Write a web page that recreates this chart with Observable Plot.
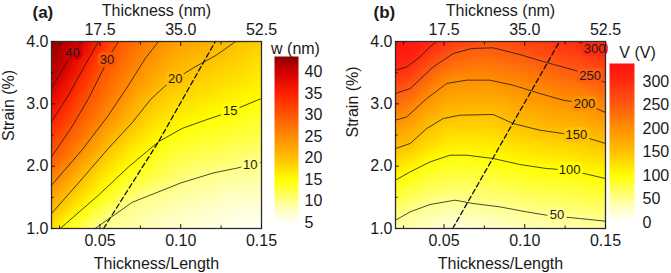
<!DOCTYPE html>
<html><head><meta charset="utf-8">
<script src="https://cdn.jsdelivr.net/npm/d3@7"></script>
<script src="https://cdn.jsdelivr.net/npm/@observablehq/plot@0.6"></script>
<style>
body{margin:0;background:#fff;}
#chart{position:relative;width:671px;height:273px;overflow:hidden;font-family:"Liberation Sans",Arial,sans-serif;}
#chart > *{position:absolute;top:0;}
</style></head><body><div id="chart"></div>
<script>
// ---- axes ----
const ratioTicks = [0.05, 0.10, 0.15];
const ratioMinor = [0.025, 0.075, 0.125];
const thicknessLabels = ["17.5", "35.0", "52.5"];
const strainTicks = [1, 2, 3, 4];
const strainMinor = [1.5, 2.5, 3.5];

// ---- panel (a): w (nm) contour lines [thickness/length, strain] ----
const w40 = [[0.02,3.246],[0.0285,3.62],[0.0336,3.834],[0.0388,4.0]];
const w35 = [[0.02,2.711],[0.0305,3.139],[0.0408,3.62],[0.0491,4.0]];
const w30 = [[0.02,2.15],[0.0326,2.63],[0.0429,3.086],[0.0512,3.513],[0.0574,3.834],[0.0615,4.0]];
const w25 = [[0.02,1.695],[0.0388,2.257],[0.0553,2.818],[0.0677,3.30],[0.0780,3.727],[0.0862,4.0]];
const w20 = [[0.02,1.24],[0.039,1.80],[0.055,2.28],[0.070,2.70],[0.081,3.06],[0.090,3.28],[0.097,3.40],[0.108,3.58],[0.122,3.78],[0.134,4.0]];
const w15 = [[0.0254,1.0],[0.0491,1.535],[0.0677,1.989],[0.0862,2.39],[0.1007,2.604],[0.1151,2.738],[0.1275,2.845],[0.15,3.086]];
const w10 = [[0.047,1.0],[0.0700,1.42],[0.1000,1.73],[0.1200,1.89],[0.1350,1.97],[0.15,2.06]];
const wLevels = [40, 35, 30, 25, 20, 15, 10];
const wLinesPts = [w40, w35, w30, w25, w20, w15, w10];
const wCorners = [[0.02,4.0,43.6],[0.02,1.0,18],[0.10,1.0,7],[0.15,1.0,4.8],[0.15,1.5,7.6],[0.10,4.0,23],[0.15,4.0,18.8]];
const wLabels = [[40,0.0330,3.824],[30,0.0543,3.70],[20,0.0966,3.40],[15,0.1306,2.88],[10,0.1430,2.02]];
const wDash = [[0.0522,1.0],[0.0862,2.39],[0.1214,4.0]];
const wTicks = [5, 10, 15, 20, 25, 30, 35, 40];
const wColorStops = [4.6, 8, 12, 15, 20, 25, 30, 35, 40, 43.6];
const wColors = ["#ffffff","#ffffc0","#ffff50","#ffff00","#ffc000","#ff8c00","#ff5500","#ff2000","#d40000","#8b0000"];

// ---- panel (b): V (V) contour lines ----
const v300a = [[0.02,3.540],[0.0270,3.594],[0.0352,3.754],[0.0414,3.914],[0.0455,4.0]];
const v300b = [[0.1329,4.0],[0.1422,3.898],[0.15,3.824]];
const v250 = [[0.02,3.166],[0.0291,3.246],[0.0434,3.594],[0.0558,3.807],[0.0671,3.888],[0.0805,3.898],[0.0969,3.791],[0.1134,3.663],[0.1309,3.540],[0.1405,3.444],[0.15,3.342]];
const v200 = [[0.02,2.738],[0.0270,2.791],[0.0393,3.085],[0.0517,3.326],[0.0640,3.380],[0.0784,3.380],[0.0928,3.299],[0.1093,3.166],[0.1237,3.059],[0.1370,3.005],[0.15,2.861]];
const v150 = [[0.02,2.283],[0.0291,2.364],[0.0393,2.604],[0.0496,2.765],[0.0599,2.818],[0.0805,2.829],[0.0928,2.684],[0.1093,2.577],[0.1237,2.524],[0.1319,2.508],[0.15,2.364]];
const v100 = [[0.02,1.775],[0.0291,1.909],[0.0414,2.069],[0.0537,2.176],[0.0640,2.176],[0.0805,2.123],[0.0969,2.027],[0.1134,1.962],[0.1278,1.936],[0.15,1.802]];
const v50 = [[0.02,1.133],[0.0291,1.267],[0.0414,1.385],[0.0568,1.454],[0.0681,1.401],[0.0846,1.347],[0.1010,1.267],[0.1134,1.214],[0.1340,1.160],[0.15,1.117]];
const vLevels = [300, 300, 250, 200, 150, 100, 50];
const vLinesPts = [v300a, v300b, v250, v200, v150, v100, v50];
const vCorners = [[0.02,4.0,338],[0.03,4.0,328],[0.08,4.0,262],[0.11,4.0,284],[0.15,4.0,310],[0.02,1.0,40],[0.057,1.0,19],[0.10,1.0,32],[0.15,1.0,42]];
const vLabels = [[300,0.1432,3.888],[250,0.1405,3.444],[200,0.1370,3.005],[150,0.1319,2.508],[100,0.1278,1.936],[50,0.12,1.214]];
const vDash = [[0.0554,1.0],[0.1216,4.0]];
const vTicks = [0, 50, 100, 150, 200, 250, 300];
const vColorStops = [0, 25, 50, 100, 150, 200, 250, 300, 338];
const vColors = ["#ffffff","#ffffd0","#ffff90","#ffff00","#ffc000","#ff9000","#ff5a10","#ff2a10","#ff1010"];

const FONT = '"Liberation Sans", Arial, sans-serif';
const baseStyle = {fontFamily: FONT, fontSize: "16px", color: "#1a1a1a", background: "transparent", overflow: "visible"};

function buildRows(levels, linesPts) {
  const rows = [];
  linesPts.forEach((pts, i) => pts.forEach(([x, y]) => rows.push({id: i, level: levels[i], x, y})));
  return rows;
}

function panel({levels, linesPts, corners, labels, dash, stops, colors, tag, strainDy}) {
  const rows = buildRows(levels, linesPts);
  const samples = rows.map(d => ({x: d.x, y: d.y, v: d.level}))
    .concat(corners.map(([x, y, v]) => ({x, y, v})));
  const labelRows = labels.map(([level, x, y]) => ({level, x, y}));
  return Plot.plot({
    width: 270, height: 273,
    marginLeft: 51, marginRight: 9, marginTop: 41, marginBottom: 45,
    x: {domain: [0.02, 0.15]},
    y: {domain: [1, 4]},
    color: {type: "linear", domain: stops, range: colors, clamp: true},
    style: baseStyle,
    marks: [
      Plot.raster(samples, {x: "x", y: "y", fill: "v", x1: 0.02, x2: 0.15, y1: 1, y2: 4, interpolate: "barycentric", blur: 3}),
      Plot.line(rows, {x: "x", y: "y", z: "id", stroke: "#1a1a1a", strokeWidth: 0.8}),
      Plot.line(dash, {x: d => d[0], y: d => d[1], stroke: "#111", strokeWidth: 1.3, strokeDasharray: "5,3"}),
      Plot.text(labelRows, {x: "x", y: "y", text: d => String(d.level), stroke: d => d.level, strokeWidth: 6, paintOrder: "stroke", fill: "#1a1a1a", fontSize: 13}),
      Plot.frame({stroke: "#2e2e2e", strokeWidth: 1.3}),
      Plot.axisX(ratioTicks, {anchor: "bottom", tickSize: -4, tickPadding: 10, tickFormat: d => d.toFixed(2), label: null}),
      Plot.axisX(ratioMinor, {anchor: "bottom", tickSize: -2.5, tickFormat: () => "", label: null}),
      Plot.axisX(ratioTicks, {anchor: "top", tickSize: -4, tickPadding: 11, tickFormat: d => thicknessLabels[ratioTicks.indexOf(d)], label: null}),
      Plot.axisX(ratioMinor, {anchor: "top", tickSize: -2.5, tickFormat: () => "", label: null}),
      Plot.axisY(strainTicks, {anchor: "left", tickSize: -4, tickPadding: 7, tickFormat: d => d.toFixed(1), label: null}),
      Plot.axisY(strainMinor, {anchor: "left", tickSize: -2.5, tickFormat: () => "", label: null}),
      Plot.text(["Thickness/Length"], {frameAnchor: "bottom", dy: 35, lineAnchor: "middle", fontSize: 16}),
      Plot.text(["Thickness (nm)"], {frameAnchor: "top", dy: -31, lineAnchor: "middle", fontSize: 16}),
      Plot.text(["Strain (%)"], {frameAnchor: "left", dx: -43, dy: strainDy, rotate: -90, lineAnchor: "middle", fontSize: 16}),
      Plot.text([tag], {frameAnchor: "top-left", dx: tag === "(a)" ? -19 : -22, dy: -29, textAnchor: "start", lineAnchor: "middle", fontSize: 17, fontWeight: "bold"})
    ]
  });
}

function colorbar({stops, colors, lo, hi, ticks, title, width, marginTop, marginBottom, barWidth, tickPadding, titleDx, titleDy}) {
  return Plot.plot({
    width, height: 273,
    marginLeft: 4, marginRight: width - 4 - barWidth, marginTop, marginBottom,
    x: {domain: [0, 1], axis: null},
    y: {domain: [lo, hi], axis: null},
    color: {type: "linear", domain: stops, range: colors, clamp: true},
    style: baseStyle,
    marks: [
      Plot.raster({x1: 0, x2: 1, y1: lo, y2: hi, fill: (x, y) => y}),
      Plot.axisY(ticks, {anchor: "right", tickSize: 0, tickPadding, label: null}),
      Plot.text([title], {frameAnchor: "top", dx: titleDx, dy: titleDy, lineAnchor: "middle", fontSize: 16})
    ]
  });
}

const root = document.getElementById("chart");
function place(el, left) { el.style.left = left + "px"; el.style.top = "0px"; root.appendChild(el); }

place(panel({levels: wLevels, linesPts: wLinesPts, corners: wCorners, labels: wLabels, dash: wDash, stops: wColorStops, colors: wColors, tag: "(a)", strainDy: 6}), 0);
place(colorbar({stops: wColorStops, colors: wColors, lo: 4.6, hi: 43.6, ticks: wTicks, title: "w (nm)", width: 60, marginTop: 56, marginBottom: 49, barWidth: 24, tickPadding: 6, titleDx: 9, titleDy: -8}), 270);
place(panel({levels: vLevels, linesPts: vLinesPts, corners: vCorners, labels: vLabels, dash: vDash, stops: vColorStops, colors: vColors, tag: "(b)", strainDy: 2.5}), 344);
place(colorbar({stops: vColorStops, colors: vColors, lo: 0, hi: 338, ticks: vTicks, title: "V (V)", width: 66, marginTop: 63, marginBottom: 51, barWidth: 25, tickPadding: 8, titleDx: 15.5, titleDy: -11}), 605);
</script></body></html>
